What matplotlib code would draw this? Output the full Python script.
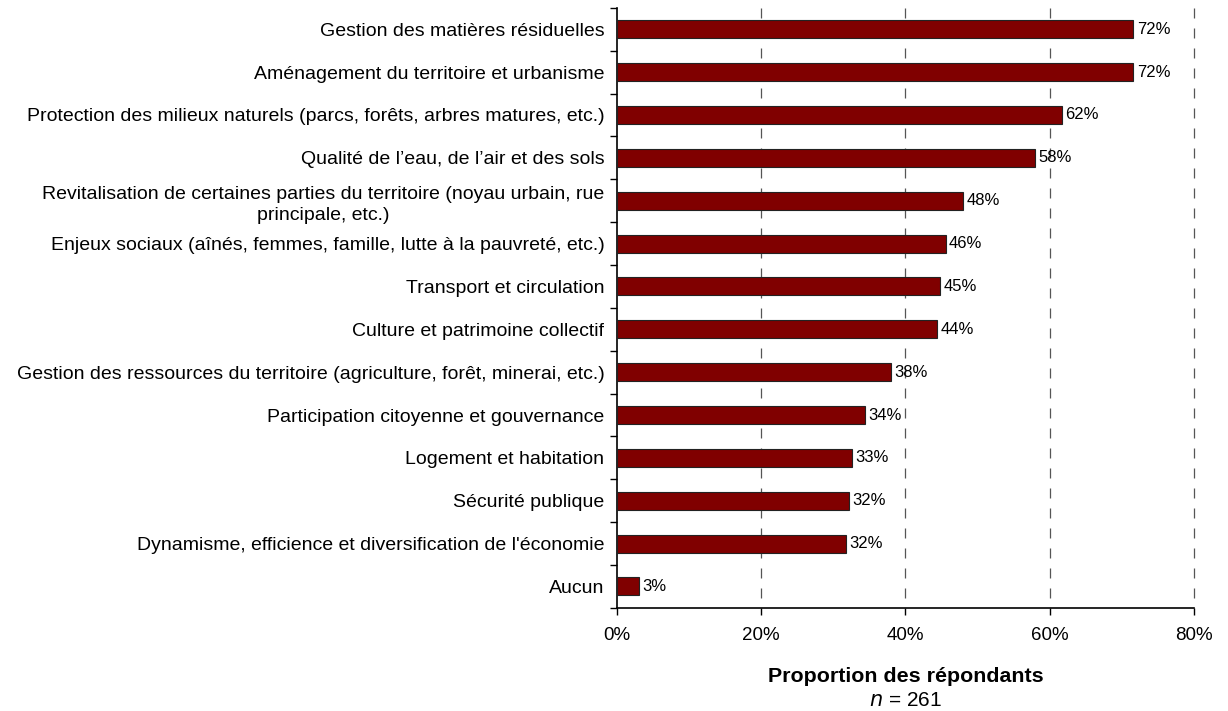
import matplotlib.pyplot as plt
from matplotlib.ticker import FuncFormatter

plt.rcParams['font.family'] = ['Liberation Sans', 'DejaVu Sans']

categories = [
    "Gestion des matières résiduelles",
    "Aménagement du territoire et urbanisme",
    "Protection des milieux naturels (parcs, forêts, arbres matures, etc.)",
    "Qualité de l’eau, de l’air et des sols",
    "Revitalisation de certaines parties du territoire (noyau urbain, rue\nprincipale, etc.)",
    "Enjeux sociaux (aînés, femmes, famille, lutte à la pauvreté, etc.)",
    "Transport et circulation",
    "Culture et patrimoine collectif",
    "Gestion des ressources du territoire (agriculture, forêt, minerai, etc.)",
    "Participation citoyenne et gouvernance",
    "Logement et habitation",
    "Sécurité publique",
    "Dynamisme, efficience et diversification de l'économie",
    "Aucun",
]
values = [71.6, 71.6, 61.7, 58.0, 48.0, 45.6, 44.8, 44.4, 38.0, 34.4, 32.6, 32.2, 31.8, 3.1]
xticks = [0, 20, 40, 60, 80]

fig = plt.figure(figsize=(12.28, 7.11), dpi=100)
ax = fig.add_axes([0.5024, 0.145, 0.4699, 0.844])

y = list(range(len(categories)))
ax.barh(y, values, height=0.42, color='#800000', edgecolor='#222222', linewidth=0.8, zorder=3)
for yi, v in zip(y, values):
    ax.text(v + 0.45, yi, f"{v:.0f}%", va='center', ha='left', fontsize=12, zorder=4)

ax.set_ylim(len(categories) - 0.5, -0.5)
ax.set_xlim(0, 80)
ax.set_yticks(y)
ax.set_yticklabels(categories, fontsize=14, multialignment='center', linespacing=1.3)
ax.set_yticks([i + 0.5 for i in range(-1, len(categories))], minor=True)
ax.tick_params(axis='y', which='major', length=0, pad=9)
ax.tick_params(axis='y', which='minor', length=5, width=1, direction='out')
ax.set_xticks(xticks)
ax.xaxis.set_major_formatter(FuncFormatter(lambda v, p: f"{v:.0f}%"))
ax.tick_params(axis='x', length=5, width=1, labelsize=13.5, pad=9)

# dashed vertical gridlines (the 80% one sits on the plot edge)
ax.vlines(xticks[1:], -0.5, len(categories) - 0.5, colors='#555555',
          linestyles=(0, (8, 8)), linewidth=0.9, zorder=0, clip_on=False)
for s in ['top', 'right']:
    ax.spines[s].set_visible(False)
ax.spines['left'].set_linewidth(1.2)
ax.spines['bottom'].set_linewidth(1.2)

fig.text(0.7374, 1 - 677 / 711, "Proportion des répondants", ha='center', va='center',
         fontsize=15.4, fontweight='bold')
fig.text(0.7374, 1 - 700 / 711, r"$\it{n}$ = 261", ha='center', va='center', fontsize=15)

fig.savefig('out.png', dpi=100)
